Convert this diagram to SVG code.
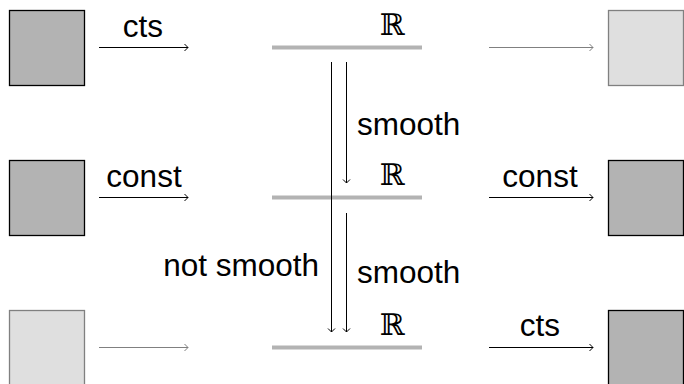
<svg xmlns="http://www.w3.org/2000/svg" width="684" height="384" viewBox="0 0 684 384">
<defs>
<style>
.dark{fill:#b3b3b3;stroke:#000;stroke-width:1.3}
.light{fill:#dfdfdf;stroke:#808080;stroke-width:1.3}
.bar{stroke:#b3b3b3;stroke-width:4;fill:none}
.a{stroke:#000;stroke-width:1;fill:none}
.ag{stroke:#808080;stroke-width:1;fill:none}
.t{font-family:"Liberation Sans",Arial,sans-serif;font-size:31.5px;fill:#000}
.r{font-family:"DejaVu Serif",serif;font-size:30px;fill:#000}
</style>
<marker id="h" markerUnits="userSpaceOnUse" markerWidth="10" markerHeight="10" refX="0" refY="0" viewBox="-6 -5 8 10" orient="auto" overflow="visible">
<path d="M-3.5,-3.5 L0,0 L-3.5,3.5" fill="none" stroke="#000" stroke-width="1"/>
</marker>
<marker id="hg" markerUnits="userSpaceOnUse" markerWidth="10" markerHeight="10" refX="0" refY="0" viewBox="-6 -5 8 10" orient="auto" overflow="visible">
<path d="M-3.5,-3.5 L0,0 L-3.5,3.5" fill="none" stroke="#808080" stroke-width="1"/>
</marker>
</defs>
<g id="box-l1"><rect class="dark" x="9.5" y="10.5" width="75" height="75"/></g>
<g id="box-l2"><rect class="dark" x="9.5" y="160.5" width="75" height="75"/></g>
<g id="box-l3"><rect class="light" x="9.5" y="310.5" width="75" height="75"/></g>
<g id="box-r1"><rect class="light" x="608.5" y="10.5" width="75" height="75"/></g>
<g id="box-r2"><rect class="dark" x="608.5" y="160.5" width="75" height="75"/></g>
<g id="box-r3"><rect class="dark" x="608.5" y="310.5" width="75" height="75"/></g>
<g id="R1"><line class="bar" x1="272" y1="47.5" x2="422" y2="47.5"/><text class="r" x="392" y="35" text-anchor="middle">ℝ</text></g>
<g id="R2"><line class="bar" x1="272" y1="197.5" x2="422" y2="197.5"/><text class="r" x="392" y="185" text-anchor="middle">ℝ</text></g>
<g id="R3"><line class="bar" x1="272" y1="347.5" x2="422" y2="347.5"/><text class="r" x="392" y="335" text-anchor="middle">ℝ</text></g>
<g id="connectors">
<line class="a" x1="99" y1="47.5" x2="188" y2="47.5" marker-end="url(#h)"/>
<text class="t" x="143" y="36.5" text-anchor="middle">cts</text>
<line class="a" x1="99" y1="197.5" x2="188" y2="197.5" marker-end="url(#h)"/>
<text class="t" x="144" y="186.5" text-anchor="middle">const</text>
<line class="ag" x1="99" y1="347.5" x2="188" y2="347.5" marker-end="url(#hg)"/>
<line class="ag" x1="489" y1="47.5" x2="593" y2="47.5" marker-end="url(#hg)"/>
<line class="a" x1="489" y1="197.5" x2="593" y2="197.5" marker-end="url(#h)"/>
<text class="t" x="540" y="186.5" text-anchor="middle">const</text>
<line class="a" x1="489" y1="347.5" x2="593" y2="347.5" marker-end="url(#h)"/>
<text class="t" x="540" y="335.5" text-anchor="middle">cts</text>
<line class="a" x1="331.5" y1="62" x2="331.5" y2="332" marker-end="url(#h)"/>
<text class="t" x="319" y="276" text-anchor="end">not smooth</text>
<line class="a" x1="346.5" y1="62" x2="346.5" y2="183" marker-end="url(#h)"/>
<text class="t" x="357" y="135">smooth</text>
<line class="a" x1="346.5" y1="213" x2="346.5" y2="332" marker-end="url(#h)"/>
<text class="t" x="357" y="283">smooth</text>
</g>
</svg>
